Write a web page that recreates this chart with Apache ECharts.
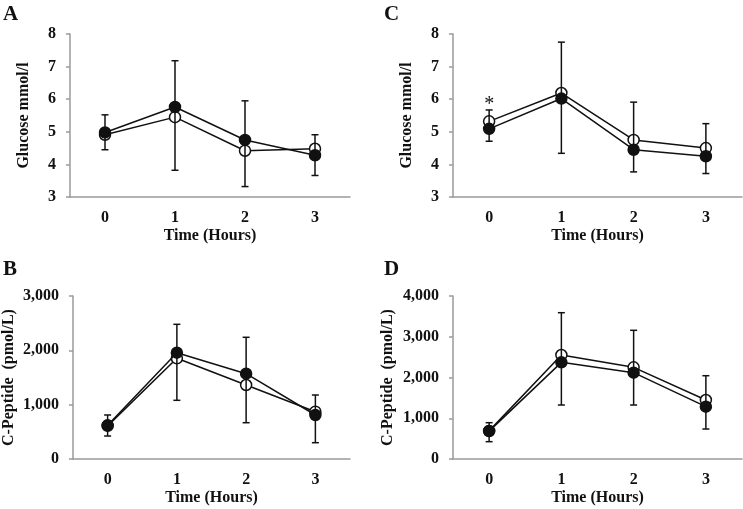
<!DOCTYPE html>
<html><head><meta charset="utf-8">
<script src="https://cdn.jsdelivr.net/npm/echarts@6/dist/echarts.min.js"></script>
<style>html,body{margin:0;padding:0;background:#fff}#c{width:743px;height:509px}</style>
</head><body><div id="c"></div>
<script>
// Categories
const hours = ['0', '1', '2', '3'];
// Panel A: Glucose (mmol/l)
const aFilled = [4.98, 5.76, 4.75, 4.28];
const aOpen = [4.91, 5.45, 4.42, 4.48];
const aErrLow = [4.45, 3.82, 3.32, 3.66];
const aErrHigh = [5.52, 7.18, 5.95, 4.91];
// Panel C: Glucose (mmol/l)
const cOpen = [5.32, 6.19, 4.75, 4.50];
const cFilled = [5.09, 6.02, 4.45, 4.25];
const cErrLow = [4.71, 4.34, 3.77, 3.72];
const cErrHigh = [5.67, 7.75, 5.91, 5.25];
// Panel B: C-Peptide (pmol/L)
const bFilled = [620, 1957, 1570, 810];
const bOpen = [610, 1853, 1362, 871];
const bErrLow = [423, 1080, 668, 300];
const bErrHigh = [810, 2479, 2240, 1178];
// Panel D: C-Peptide (pmol/L)
const dOpen = [690, 2552, 2250, 1448];
const dFilled = [685, 2372, 2118, 1284];
const dErrLow = [425, 1325, 1325, 736];
const dErrHigh = [891, 3590, 3158, 2044];
// Axis ranges / ticks
const glucoseAxis = {min: 3, max: 8, interval: 1};
const cpepAxisB = {min: 0, max: 3000, interval: 1000};
const cpepAxisD = {min: 0, max: 4000, interval: 1000};
const starMark = {hour: '0', value: 5.82, text: '*'};

const FONT = 'Liberation Serif';
const TXT = '#111';
const AXC = '#9a9a9a';
const FS = 16;

const grids = [
  {left: 70, top: 34, width: 280, height: 163},
  {left: 453, top: 34, width: 289, height: 163},
  {left: 70, top: 296, width: 280, height: 163},
  {left: 453, top: 296, width: 289, height: 163}
];

function fmt(v) { return String(v).replace(/\B(?=(\d{3})+(?!\d))/g, ','); }

function xAxis(i) {
  return {
    type: 'category', gridIndex: i, data: hours, boundaryGap: true,
    name: 'Time (Hours)', nameLocation: 'middle', nameGap: 31,
    nameTextStyle: {fontFamily: FONT, fontWeight: 'bold', fontSize: FS, color: TXT},
    axisLine: {lineStyle: {color: AXC, width: 1.5}},
    axisTick: {show: false},
    axisLabel: {fontFamily: FONT, fontWeight: 'bold', fontSize: FS, color: TXT, margin: 13},
    splitLine: {show: false}
  };
}
function yAxis(i, rng, name, gap) {
  return {
    type: 'value', gridIndex: i, min: rng.min, max: rng.max, interval: rng.interval,
    name: name, nameLocation: 'middle', nameGap: gap,
    nameTextStyle: {fontFamily: FONT, fontWeight: 'bold', fontSize: FS, color: TXT},
    axisLine: {show: true, lineStyle: {color: AXC, width: 1.5}},
    axisTick: {show: true, length: 4, lineStyle: {color: AXC, width: 1.5}},
    axisLabel: {fontFamily: FONT, fontWeight: 'bold', fontSize: FS, color: TXT, margin: 14, formatter: fmt},
    splitLine: {show: false}
  };
}
function lineSeries(i, data, filled) {
  return {
    type: 'line', xAxisIndex: i, yAxisIndex: i, data: data,
    symbol: 'circle', symbolSize: 11, z: filled ? 4 : 3,
    lineStyle: {color: '#111', width: 1.5},
    itemStyle: {color: filled ? '#111' : '#fff', borderColor: '#111', borderWidth: 1.5},
    emphasis: {disabled: true}, animation: false
  };
}
function errSeries(i, lo, hi) {
  return {
    type: 'custom', xAxisIndex: i, yAxisIndex: i, z: 5, animation: false,
    data: hours.map((h, k) => [k, lo[k], hi[k]]),
    renderItem: function (params, api) {
      const x = api.value(0);
      const p1 = api.coord([x, api.value(2)]);
      const p2 = api.coord([x, api.value(1)]);
      const w = 3.5;
      const st = {stroke: '#111', lineWidth: 1.5};
      return {type: 'group', children: [
        {type: 'line', shape: {x1: p1[0], y1: p1[1], x2: p2[0], y2: p2[1]}, style: st},
        {type: 'line', shape: {x1: p1[0] - w, y1: p1[1], x2: p1[0] + w, y2: p1[1]}, style: st},
        {type: 'line', shape: {x1: p2[0] - w, y1: p2[1], x2: p2[0] + w, y2: p2[1]}, style: st}
      ]};
    }
  };
}

const cOpenSeries = lineSeries(1, cOpen, false);
cOpenSeries.markPoint = {
  symbol: 'circle', symbolSize: 0, silent: true,
  data: [{coord: [starMark.hour, starMark.value], value: starMark.text}],
  label: {show: true, formatter: starMark.text, position: 'inside', fontFamily: FONT, fontSize: 20, color: TXT}
};

const panelLabel = (t, x, y) => ({type: 'text', left: x, top: y,
  style: {text: t, fontFamily: FONT, fontWeight: 'bold', fontSize: 21, fill: TXT}});

const option = {
  backgroundColor: '#fff',
  animation: false,
  grid: grids,
  xAxis: [xAxis(0), xAxis(1), xAxis(2), xAxis(3)],
  yAxis: [
    yAxis(0, glucoseAxis, 'Glucose mmol/l', 38),
    yAxis(1, glucoseAxis, 'Glucose mmol/l', 38),
    yAxis(2, cpepAxisB, 'C-Peptide  (pmol/L)', 56),
    yAxis(3, cpepAxisD, 'C-Peptide  (pmol/L)', 57)
  ],
  series: [
    lineSeries(0, aOpen, false), lineSeries(0, aFilled, true), errSeries(0, aErrLow, aErrHigh),
    cOpenSeries, lineSeries(1, cFilled, true), errSeries(1, cErrLow, cErrHigh),
    lineSeries(2, bOpen, false), lineSeries(2, bFilled, true), errSeries(2, bErrLow, bErrHigh),
    lineSeries(3, dOpen, false), lineSeries(3, dFilled, true), errSeries(3, dErrLow, dErrHigh)
  ],
  graphic: [
    panelLabel('A', 3, 4), panelLabel('C', 384, 4),
    panelLabel('B', 3, 259), panelLabel('D', 384, 259)
  ]
};
const chart = echarts.init(document.getElementById('c'), null, {renderer: 'canvas'});
chart.setOption(option);
</script>
</body></html>
